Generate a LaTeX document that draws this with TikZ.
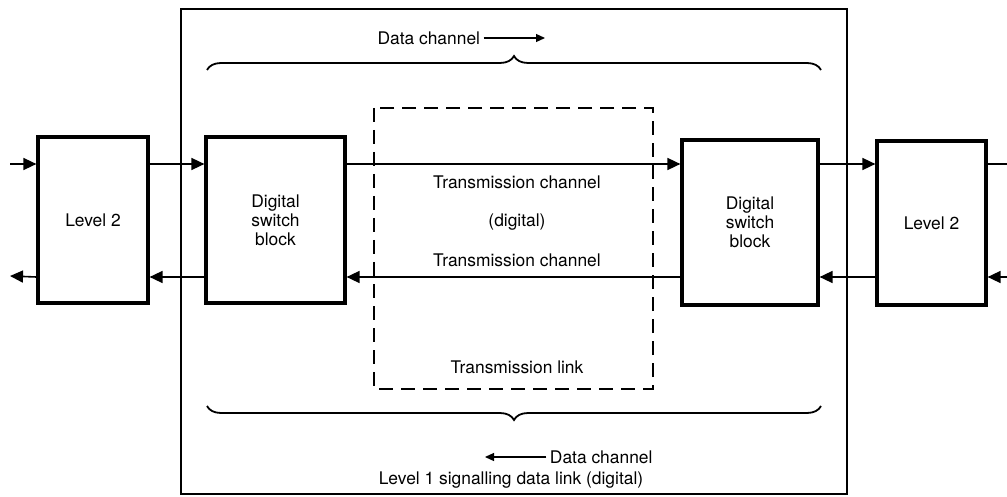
\documentclass[tikz,border=0pt]{standalone}
\usepackage{fontspec}
\setmainfont{TeX Gyre Heros}
\usetikzlibrary{arrows.meta,decorations.pathreplacing}

\begin{document}
\begin{tikzpicture}[x=1pt,y=-1pt,
  font=\fontsize{17.4}{19}\selectfont,
  blk/.style={draw, line width=3.2pt, inner sep=0pt, align=center},
  sig/.style={line width=1.6pt, -{Triangle[length=13pt,width=12pt]}},
  dirarr/.style={line width=1.2pt, -{Triangle[length=9pt,width=8pt]}},
  brc/.style={line width=1.8pt, decorate, decoration={brace, amplitude=14pt}}]
\useasboundingbox (0,0) rectangle (1007,497);

% Outer frame of the level 1 link
\draw[line width=1.3pt] (181,9) rectangle (847,494);

% Transmission link (dashed)
\draw[line width=1.8pt, dash pattern=on 14pt off 8pt] (374,108) rectangle (653,389);

% Blocks
\node[blk, minimum width=110pt, minimum height=166pt] (lvlL) at (93,220) {Level 2};
\node[blk, minimum width=139pt, minimum height=166pt] (dsbL) at (275.5,220) {Digital\\switch\\block};
\node[blk, minimum width=136pt, minimum height=165pt] (dsbR) at (750,222.5) {Digital\\switch\\block};
\node[blk, minimum width=109pt, minimum height=164pt] (lvlR) at (931.5,223) {Level 2};

% Rows of the signal lines and free ends
\coordinate (hi) at (0,164);
\coordinate (lo) at (0,277);
\coordinate (inL) at (10,164);
\coordinate (outL) at (10,276);
\coordinate (outR) at (1007,164);
\coordinate (inR) at (1007,277);

% Forward direction
\draw[sig] (inL) -- (lvlL.west |- hi);
\draw[sig] (lvlL.east |- hi) -- (dsbL.west |- hi);
\draw[sig] (dsbL.east |- hi) -- (dsbR.west |- hi);
\draw[sig] (dsbR.east |- hi) -- (lvlR.west |- hi);
\draw[line width=1.6pt] (lvlR.east |- hi) -- (outR);

% Backward direction
\draw[sig] (inR) -- (lvlR.east |- lo);
\draw[sig] (lvlR.west |- lo) -- (dsbR.east |- lo);
\draw[sig] (dsbR.west |- lo) -- (dsbL.east |- lo);
\draw[sig] (dsbL.west |- lo) -- (lvlL.east |- lo);
\draw[sig] (lvlL.west |- lo) -- (outL);

% Labels in the transmission link
\node (tcU) at (517,182) {Transmission channel};
\node (dig) at (517,222) {(digital)};
\node (tcD) at (517,260) {Transmission channel};
\node (tlink) at (517,367) {Transmission link};

% Braces
\draw[brc] (207,70) -- (821,70);
\draw[brc] (821,406) -- (207,406);

% Data channel labels
\node[anchor=west] (dcU) at (374,38) {Data channel};
\coordinate (dcUend) at (545,38);
\draw[dirarr] (dcU.east) -- (dcUend);
\node[anchor=east] (dcD) at (656,457) {Data channel};
\coordinate (dcDend) at (485,457);
\draw[dirarr] (dcD.west) -- (dcDend);
\node (lone) at (511,480) {Level 1 signalling data link (digital)};
\end{tikzpicture}
\end{document}
